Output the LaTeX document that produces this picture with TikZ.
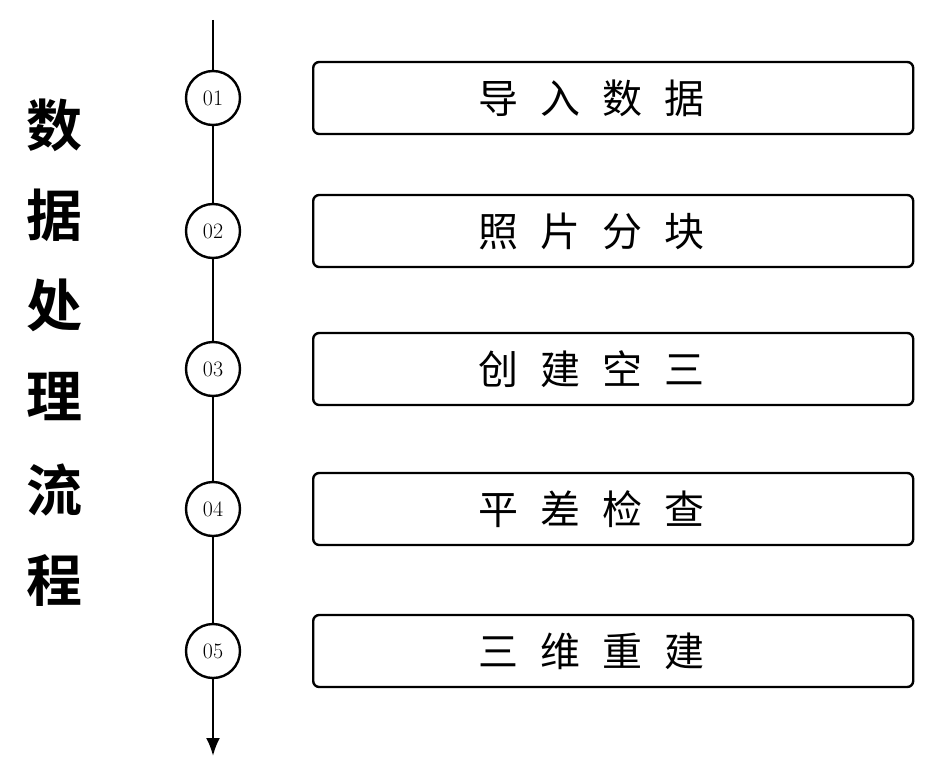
\documentclass[tikz,border=0pt]{standalone}
\usepackage{fontspec}
\newfontfamily\cjk{Noto Sans CJK SC}
\newfontfamily\cjkb{Noto Sans CJK SC Bold}
\usetikzlibrary{arrows.meta}
\newcommand{\gp}{\hspace{22pt}}
\begin{document}
\begin{tikzpicture}[x=1pt,y=-1pt,
  stepbox/.style={draw,line width=2.4pt,rounded corners=6pt,minimum width=600pt,minimum height=72pt,anchor=west},
  steptxt/.style={font=\cjk\fontsize{40}{42}\selectfont},
  numc/.style={draw,circle,line width=2.4pt,fill=white,minimum size=54pt,inner sep=0pt,font=\fontsize{22}{24}\selectfont},
  ttl/.style={font=\cjkb\fontsize{56}{58}\selectfont}]
\useasboundingbox (0,0) rectangle (941,765);
\coordinate (top) at (213,20);
\coordinate (bot) at (213,756);
\draw[line width=2.4pt,-{Latex[length=18pt,width=14pt]}] (top) -- (bot);
\foreach \i/\y/\t in {1/98/导\gp 入\gp 数\gp 据,2/231/照\gp 片\gp 分\gp 块,3/369/创\gp 建\gp 空\gp 三,4/509/平\gp 差\gp 检\gp 查,5/651/三\gp 维\gp 重\gp 建}{
  \node[numc] (c\i) at (213,\y) {0\i};
  \node[stepbox] (b\i) at (312,\y) {};
  \node[steptxt] (s\i) at (591,\y) {\t};
}
\foreach \c/\y in {数/125,据/215,处/305,理/397,流/490,程/580}
  \node[ttl] (t\c) at (55,\y) {\c};
\end{tikzpicture}
\end{document}
